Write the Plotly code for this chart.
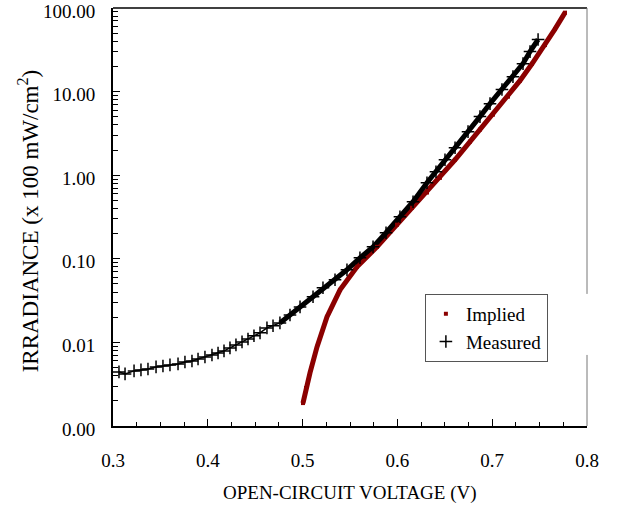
import plotly.graph_objects as go

# Measured (black +)
meas_v = [0.3063, 0.3127, 0.3222, 0.3295, 0.3369, 0.3454, 0.3527, 0.3601, 0.3686, 0.3759,
          0.3833, 0.3897, 0.3970, 0.4044, 0.4108, 0.4171, 0.4234, 0.4297, 0.4361, 0.4424,
          0.4487, 0.4551, 0.4624, 0.4688, 0.4761, 0.4867, 0.4973, 0.5110, 0.5215, 0.5342,
          0.5468, 0.5605, 0.5743, 0.5880, 0.6027, 0.6165, 0.6312, 0.6407, 0.6502, 0.6608,
          0.6745, 0.6871, 0.6977, 0.7103, 0.7219, 0.7325, 0.7399, 0.7484]
meas_irr = [0.00444, 0.00420, 0.00456, 0.00469, 0.00481, 0.00509, 0.00523, 0.00538, 0.00553, 0.00584,
            0.00600, 0.00634, 0.00670, 0.00708, 0.00748, 0.00791, 0.00859, 0.00933, 0.01014, 0.0110,
            0.0120, 0.0130, 0.0149, 0.0158, 0.0171, 0.0213, 0.0266, 0.0351, 0.0450, 0.0561,
            0.0738, 0.1028, 0.139, 0.205, 0.318, 0.482, 0.813, 1.10, 1.53, 2.13,
            3.32, 5.02, 7.18, 10.6, 15.1, 21.6, 30.1, 42.0]

# Implied (dark red)
impl_v = [0.5004, 0.5036, 0.5078, 0.5152, 0.5257, 0.5395, 0.5574, 0.5785, 0.5996, 0.6154,
          0.6312, 0.6449, 0.6608, 0.6766, 0.6871, 0.7008, 0.7167, 0.7293, 0.7420, 0.7557,
          0.7662, 0.7768]
impl_irr = [0.00188, 0.00285, 0.00431, 0.00884, 0.0202, 0.0425, 0.0802, 0.139, 0.256, 0.408,
            0.62, 0.93, 1.53, 2.52, 3.51, 5.3, 8.7, 13.5, 21.5, 36.0,
            56.0, 88.0]

x_ticks = [0.3, 0.4, 0.5, 0.6, 0.7, 0.8]
x_ticktext = ["0.3", "0.4", "0.5", "0.6", "0.7", "0.8"]
y_ticks = [0.001, 0.01, 0.1, 1, 10, 100]
y_ticktext = ["0.00", "0.01", "0.10", "1.00", "10.00", "100.00"]
y_minor = [m * 10.0 ** e for e in range(-3, 2) for m in range(2, 10)]

RED = "#8B0000"
FONT = "Liberation Serif"
BAND_START = 24  # index from which the measured crosses merge into a solid band

fig = go.Figure()
fig.add_trace(go.Scatter(x=impl_v, y=impl_irr, mode="lines",
                         line=dict(color=RED, width=5), showlegend=False, hoverinfo="skip"))
fig.add_trace(go.Scatter(x=meas_v, y=meas_irr, mode="lines",
                         line=dict(color="black", width=1.5), showlegend=False, hoverinfo="skip"))
fig.add_trace(go.Scatter(x=meas_v[BAND_START:], y=meas_irr[BAND_START:], mode="lines",
                         line=dict(color="black", width=5), showlegend=False, hoverinfo="skip"))
fig.add_trace(go.Scatter(x=impl_v, y=impl_irr, mode="markers", name="Implied",
                         marker=dict(symbol="square", size=4, color=RED)))
fig.add_trace(go.Scatter(x=meas_v, y=meas_irr, mode="markers", name="Measured",
                         marker=dict(symbol="cross-thin", size=9,
                                     line=dict(color="black", width=1.5), color="black")))

fig.update_layout(
    width=627, height=511,
    margin=dict(l=113, r=40, t=8, b=85),
    paper_bgcolor="white", plot_bgcolor="white",
    font=dict(family=FONT, size=19, color="black"),
    legend=dict(x=0.658, y=0.316, xanchor="left", yanchor="top",
                bgcolor="white", bordercolor="#555555", borderwidth=1,
                font=dict(family=FONT, size=19), itemwidth=30, tracegroupgap=0),
    xaxis=dict(range=[0.3, 0.8], tickvals=x_ticks, ticktext=x_ticktext,
               ticks="inside", ticklen=7, tickwidth=1, tickcolor="black",
               showline=True, linecolor="black", linewidth=2,
               showgrid=False, zeroline=False, ticklabelstandoff=16,
               ticklabeloverflow="allow", automargin=False,
               minor=dict(dtick=0.025, ticks="inside", ticklen=4, tickcolor="black", showgrid=False)),
    yaxis=dict(type="log", range=[-3, 2], tickvals=y_ticks, ticktext=y_ticktext,
               ticks="inside", ticklen=7, tickwidth=1, tickcolor="black",
               showline=True, linecolor="black", linewidth=2,
               showgrid=False, zeroline=False, ticklabelstandoff=12, ticklabelshift=3,
               ticklabeloverflow="allow", automargin=False,
               minor=dict(tickvals=y_minor, ticks="inside", ticklen=5, tickcolor="black", showgrid=False)),
)

# axis titles
fig.add_annotation(text="OPEN-CIRCUIT VOLTAGE (V)", xref="paper", yref="paper",
                   x=0.5, y=-0.16, xanchor="center", yanchor="middle", showarrow=False,
                   font=dict(family=FONT, size=19))
fig.add_annotation(text="IRRADIANCE (x 100 mW/cm<sup>2</sup>)", xref="paper", yref="paper",
                   x=-0.179, y=0.49, xanchor="center", yanchor="middle", showarrow=False,
                   textangle=-90, font=dict(family=FONT, size=23))

# frame: top border and right border (with gap beside the legend)
fig.add_shape(type="line", xref="paper", yref="paper", x0=0, x1=1, y0=1, y1=1,
              line=dict(color="black", width=1.5))
fig.add_shape(type="line", xref="paper", yref="paper", x0=1, x1=1, y0=0.316, y1=1,
              line=dict(color="#777777", width=1))
fig.add_shape(type="line", xref="paper", yref="paper", x0=1, x1=1, y0=0, y1=0.17,
              line=dict(color="#777777", width=1))

fig.write_html("out.html", config={"displayModeBar": False},
               post_script="document.body.style.margin='0';")
